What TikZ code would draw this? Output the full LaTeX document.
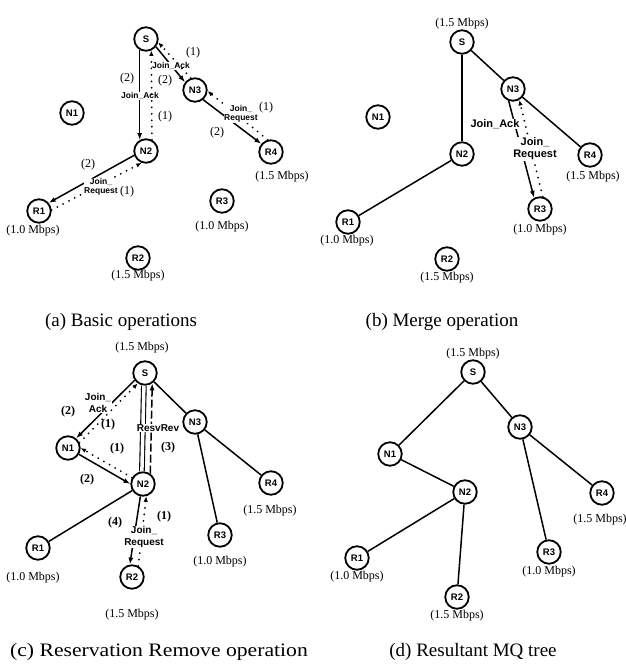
\documentclass[tikz,border=0pt]{standalone}
\usepackage{fontspec}
\setmainfont{Liberation Serif}
\setsansfont{Liberation Sans}
\usetikzlibrary{arrows.meta}
\tikzset{
  nd/.style={circle,draw,line width=1.8pt,minimum size=23.5pt,inner sep=0pt,
    font=\sffamily\bfseries\fontsize{9.5}{9.5}\selectfont},
  edge/.style={line width=1.5pt},
  arr/.style={line width=1.5pt,-{Latex[length=7pt,width=5pt]}},
  dotarr/.style={line width=2pt,dash pattern=on 0pt off 6.5pt,line cap=round,
    -{Latex[length=5.5pt,width=4.5pt]}},
  dasharr/.style={line width=1.5pt,dash pattern=on 8pt off 3pt,
    -{Latex[length=7pt,width=5pt]}},
  dbl/.style={line width=1.1pt,double,double distance=3.5pt},
  bw/.style={font=\fontsize{12}{12}\selectfont,inner sep=0pt},
  num/.style={font=\fontsize{12}{12}\selectfont,inner sep=0pt},
  bnum/.style={font=\bfseries\fontsize{12}{12}\selectfont,inner sep=0pt},
  msga/.style={font=\sffamily\bfseries\fontsize{8.5}{9.5}\selectfont,align=center,fill=white,inner sep=0.5pt},
  msgb/.style={font=\sffamily\bfseries\fontsize{11}{12}\selectfont,align=center,fill=white,inner sep=0.5pt},
  msgc/.style={font=\sffamily\bfseries\fontsize{10}{11.5}\selectfont,align=center,fill=white,inner sep=0.5pt},
  capt/.style={font=\fontsize{19}{19}\selectfont,inner sep=0pt}
}
\begin{document}
\begin{tikzpicture}[x=1pt,y=-1pt]
\useasboundingbox[fill=white] (0,0) rectangle (626,665);

% ---------------- (a) ----------------
\node[nd] (aS)  at (146,39)  {S};
\node[nd] (aN1) at (72,113)  {N1};
\node[nd] (aN2) at (146,151) {N2};
\node[nd] (aN3) at (195,90)  {N3};
\node[nd] (aR4) at (271,152) {R4};
\node[nd] (aR1) at (39,211)  {R1};
\node[nd] (aR2) at (138,258) {R2};
\node[nd] (aR3) at (222,201) {R3};
\node[bw] (aR1b) at (33,231)  {(1.0 Mbps)};
\node[bw] (aR2b) at (138,276) {(1.5 Mbps)};
\node[bw] (aR3b) at (222,227) {(1.0 Mbps)};
\node[bw] (aR4b) at (282,177) {(1.5 Mbps)};

\draw[arr] (aS.240) -- (aN2.120);
\node[msga] (aL1) at (140,96) {Join\_Ack};
\node[num] (aL2) at (127,79) {(2)};
\draw[dotarr] (aN2.62) -- (aS.295);
\node[num] (aL3) at (165,117) {(1)};

\draw[arr] (aS.322) -- (aN3.142);
\node[msga] (aL4) at (171,66) {Join\_Ack};
\node[num] (aL5) at (165,81) {(2)};
\draw[dotarr] (aN3.110) -- (aS.345);
\node[num] (aL6) at (193,53) {(1)};

\draw[arr] (aN3.310) -- (aR4.140);
\node[num] (aL7) at (217,133) {(2)};
\draw[dotarr] (aR4.105) -- (aN3.355);
\node[msga] (aL8) at (241,114) {Join\_\\Request};
\node[num] (aL9) at (266,108) {(1)};

\draw[arr] (aN2.200) -- (aR1.40);
\node[num] (aL10) at (88,165) {(2)};
\draw[dotarr] (aR1.5) -- (aN2.250);
\node[msga] (aL11) at (101,187) {Join\_\\Request};
\node[num] (aL12) at (127,192) {(1)};

\node[capt] (capa) at (121,322) {(a) Basic operations};

% ---------------- (b) ----------------
\node[nd] (bS)  at (462,42)  {S};
\node[nd] (bN1) at (378,117) {N1};
\node[nd] (bN2) at (462,154) {N2};
\node[nd] (bN3) at (513,89)  {N3};
\node[nd] (bR4) at (590,155) {R4};
\node[nd] (bR1) at (348,222) {R1};
\node[nd] (bR2) at (447,259) {R2};
\node[nd] (bR3) at (540,209) {R3};
\node[bw] (bSb)  at (462,24)  {(1.5 Mbps)};
\node[bw] (bR4b) at (593,177) {(1.5 Mbps)};
\node[bw] (bR1b) at (347,241) {(1.0 Mbps)};
\node[bw] (bR2b) at (447,278) {(1.5 Mbps)};
\node[bw] (bR3b) at (540,230) {(1.0 Mbps)};

\draw[edge] (bS) -- (bN2);
\draw[edge] (bS) -- (bN3);
\draw[edge] (bN3) -- (bR4);
\draw[edge] (bN2) -- (bR1);
\draw[arr] (bN3.250) -- (bR3.118);
\node[msgb] (bL1) at (495,124) {Join\_Ack};
\draw[dotarr] (bR3.78) -- (bN3.300);
\node[msgb] (bL2) at (535,149) {Join\_\\Request};

\node[capt] (capb) at (442,322) {(b) Merge operation};

% ---------------- (c) ----------------
\node[nd] (cS)  at (145,373) {S};
\node[nd] (cN1) at (68,448)  {N1};
\node[nd] (cN2) at (143,484) {N2};
\node[nd] (cN3) at (195,422) {N3};
\node[nd] (cR4) at (271,483) {R4};
\node[nd] (cR3) at (220,535) {R3};
\node[nd] (cR1) at (38,548)  {R1};
\node[nd] (cR2) at (132,577) {R2};
\node[bw] (cSb)  at (142,348) {(1.5 Mbps)};
\node[bw] (cR4b) at (270,511) {(1.5 Mbps)};
\node[bw] (cR3b) at (220,562) {(1.0 Mbps)};
\node[bw] (cR1b) at (33,578)  {(1.0 Mbps)};
\node[bw] (cR2b) at (132,615) {(1.5 Mbps)};

\draw[edge] (cS) -- (cN3);
\draw[edge] (cN3) -- (cR4);
\draw[edge] (cN3) -- (cR3);
\draw[edge] (cR1) -- (cN2);
\draw[dbl] (cS.265) -- (cN2.95);
\draw[dasharr] (cN2.55) -- (cS.305);
\node[msgc] (cL1) at (158,428) {ResvRev};
\node[bnum] (cL2) at (168,448) {(3)};

\draw[arr] (cS.215) -- (cN1.50);
\node[msgc] (cL3) at (98,403) {Join\_\\Ack};
\node[bnum] (cL4) at (68,412) {(2)};
\draw[dotarr] (cN1.25) -- (cS.235);
\node[bnum] (cL5) at (108,425) {(1)};

\draw[dotarr] (cN2.150) -- (cN1.0);
\node[bnum] (cL6) at (117,449) {(1)};
\draw[arr] (cN1.330) -- (cN2.180);
\node[bnum] (cL7) at (87,480) {(2)};

\draw[arr] (cN2.258) -- (cR2.100);
\node[bnum] (cL8) at (115,523) {(4)};
\draw[dotarr] (cR2.60) -- (cN2.285);
\node[msgc] (cL9) at (144,537) {Join\_\\Request};
\node[bnum] (cL10) at (164,517) {(1)};

\node[capt] (capc) at (159,652) {\scalebox{1.14}[1]{(c) Reservation Remove operation}};

% ---------------- (d) ----------------
\node[nd] (dS)  at (473,372) {S};
\node[nd] (dN1) at (390,454) {N1};
\node[nd] (dN2) at (465,492) {N2};
\node[nd] (dN3) at (520,427) {N3};
\node[nd] (dR4) at (602,493) {R4};
\node[nd] (dR3) at (549,552) {R3};
\node[nd] (dR1) at (357,558) {R1};
\node[nd] (dR2) at (457,597) {R2};
\node[bw] (dSb)  at (473,354) {(1.5 Mbps)};
\node[bw] (dR4b) at (600,520) {(1.5 Mbps)};
\node[bw] (dR3b) at (549,572) {(1.0 Mbps)};
\node[bw] (dR1b) at (357,577) {(1.0 Mbps)};
\node[bw] (dR2b) at (457,616) {(1.5 Mbps)};

\draw[edge] (dS) -- (dN1);
\draw[edge] (dS) -- (dN3);
\draw[edge] (dN1) -- (dN2);
\draw[edge] (dN2) -- (dR1);
\draw[edge] (dN2) -- (dR2);
\draw[edge] (dN3) -- (dR3);
\draw[edge] (dN3) -- (dR4);

\node[capt] (capd) at (473,652) {(d) Resultant MQ tree};
\end{tikzpicture}
\end{document}
